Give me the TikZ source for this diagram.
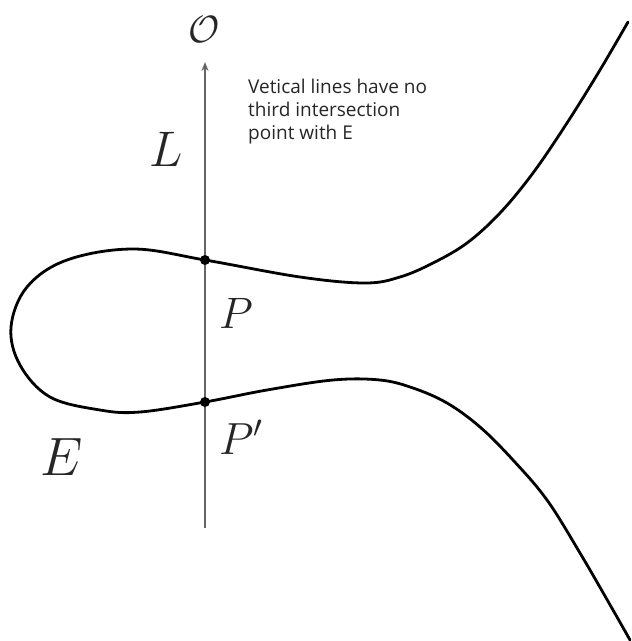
\RequirePackage{fix-cm}
\documentclass[tikz,border=0pt]{standalone}
\usepackage{fontspec}
\newfontfamily\notefont{Open Sans}
\usetikzlibrary{arrows.meta}
\begin{document}
\begin{tikzpicture}[x=1pt,y=-1pt,
  curve/.style={line width=2.8pt,black,line cap=round},
  axis/.style={line width=1.6pt,black!60,-{Stealth[length=9pt,width=7pt]}},
  dot/.style={circle,fill=black,inner sep=0pt,minimum size=10pt},
  lbl/.style={inner sep=0pt,anchor=base,text=black!85},
  note/.style={inner sep=0pt,anchor=base west,align=left,font=\notefont\fontsize{19}{23}\selectfont,text=black!85}]
\useasboundingbox (0,0) rectangle (632,641);
\draw[curve] plot[smooth,tension=0.6] coordinates {
 (628,22) (600,70) (567,123) (533,173) (500,213) (467,243) (433,263) (400,277) (365,283) (300,277)
 (205,260) (133,249) (67,260) (27,287) (11,327) (20,365) (50,397)
 (100,410) (140,412) (205,402) (267,390) (333,380) (380,380) (413,388) (447,403)
 (480,427) (513,460) (547,500) (580,553) (613,610) (630,640)};
\coordinate (bot) at (205,528);
\coordinate (top) at (205,62);
\draw[axis] (bot) -- (top);
\node[dot] (P) at (205,260) {};
\node[dot] (Pp) at (205,402) {};
\node[lbl,font=\fontsize{38}{40}\selectfont] (O) at (204,42) {$\mathcal{O}$};
\node[lbl,font=\fontsize{50}{52}\selectfont] (L) at (166,166) {$L$};
\node[lbl,font=\fontsize{44}{46}\selectfont] (Plab) at (236,328) {$P$};
\node[lbl,font=\fontsize{45}{47}\selectfont] (Pplab) at (241,454) {$P'$};
\node[lbl,font=\fontsize{54}{56}\selectfont] (E) at (62,475) {$E$};
\node[note] (txt) at (248,139) {Vetical lines have no\\third intersection\\point with E};
\end{tikzpicture}
\end{document}
